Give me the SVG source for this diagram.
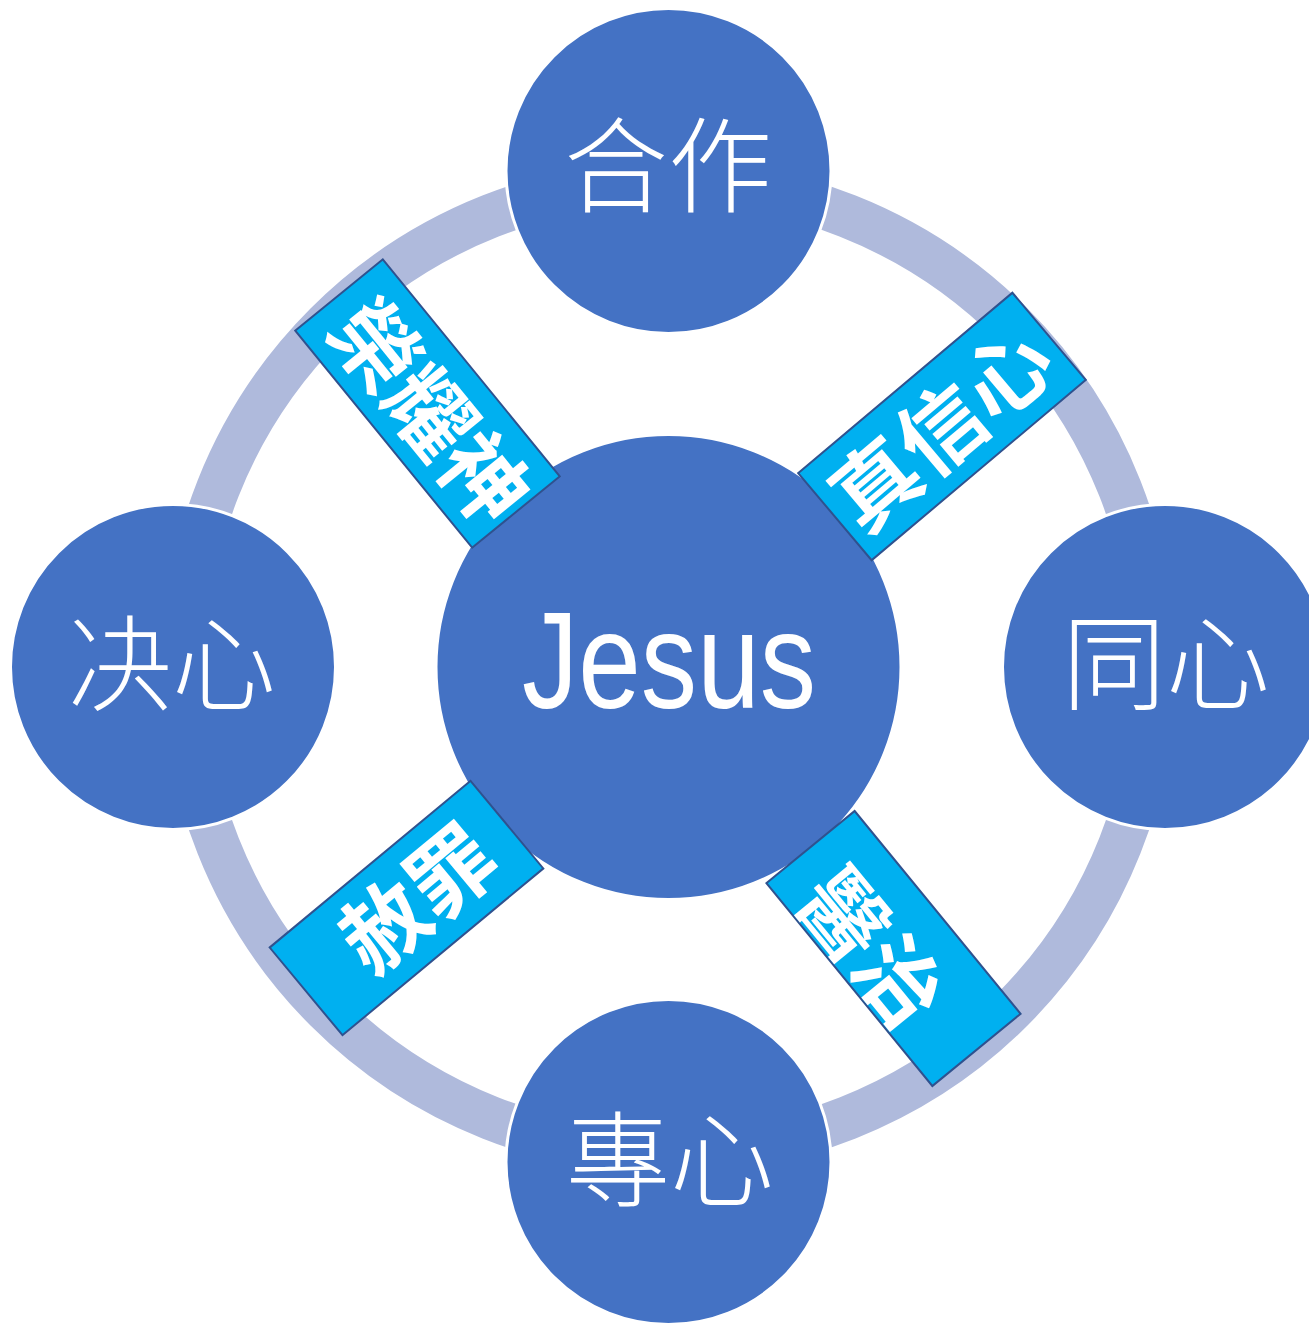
<svg xmlns="http://www.w3.org/2000/svg" width="1309" height="1323" viewBox="0 0 1309 1323">
<style>
.node{fill:#4472C4;stroke:#FFFFFF;stroke-width:3}
.lbl{font-family:"Noto Sans CJK TC","Noto Sans CJK SC",sans-serif;font-size:104px;font-weight:300;fill:#FFFFFF;text-anchor:middle}
.tag{fill:#00B0F0;stroke:#2F528F;stroke-width:2}
.tagt{font-family:"Noto Sans CJK TC","Noto Sans CJK SC",sans-serif;font-size:86px;font-weight:700;fill:#FFFFFF;text-anchor:middle}
</style>
<rect width="1309" height="1323" fill="#FFFFFF"/>
<g id="connectors">
<circle cx="669" cy="667" r="485" fill="none" stroke="#AFBADC" stroke-width="44"/>
</g>
<g id="node-top"><circle class="node" cx="668.5" cy="171" r="162.5"/><text class="lbl" x="668" y="205">合作</text></g>
<g id="node-right"><circle class="node" cx="1165" cy="667" r="162.5"/><text class="lbl" x="1166" y="702">同心</text></g>
<g id="node-bottom"><circle class="node" cx="668.5" cy="1162" r="162.5"/><text class="lbl" x="670" y="1199">專心</text></g>
<g id="node-left"><circle class="node" cx="173" cy="667" r="162.5"/><text class="lbl" x="172" y="703">决心</text></g>
<g id="node-center"><circle class="node" cx="668.5" cy="667" r="232.5"/><text x="522" y="708" font-family="Liberation Sans, Arial, sans-serif" font-size="138" fill="#FFFFFF" textLength="294" lengthAdjust="spacingAndGlyphs">Jesus</text></g>
<g id="tag-glory">
<rect class="tag" x="-140" y="-56.5" width="280" height="113" transform="translate(427.5 403.5) rotate(50.8)"/>
<text class="tagt" x="0" y="32" transform="translate(430 412) rotate(50.8)">榮耀神</text>
</g>
<g id="tag-faith">
<rect class="tag" x="-140" y="-57" width="280" height="114" transform="translate(942 426.5) rotate(-40.1)"/>
<text class="tagt" x="0" y="32" transform="translate(941.5 429) rotate(-40.1)">真信心</text>
</g>
<g id="tag-forgive">
<rect class="tag" x="-130.5" y="-57" width="261" height="114" transform="translate(406.5 908) rotate(-39.7)"/>
<text class="tagt" x="0" y="32" transform="translate(417.5 898.5) rotate(-39.7)">赦罪</text>
</g>
<g id="tag-heal">
<rect class="tag" x="-131" y="-57" width="262" height="114" transform="translate(893.5 948.5) rotate(50.7)"/>
<text class="tagt" x="0" y="32" transform="translate(872 948) rotate(50.7)">醫治</text>
</g>
</svg>
